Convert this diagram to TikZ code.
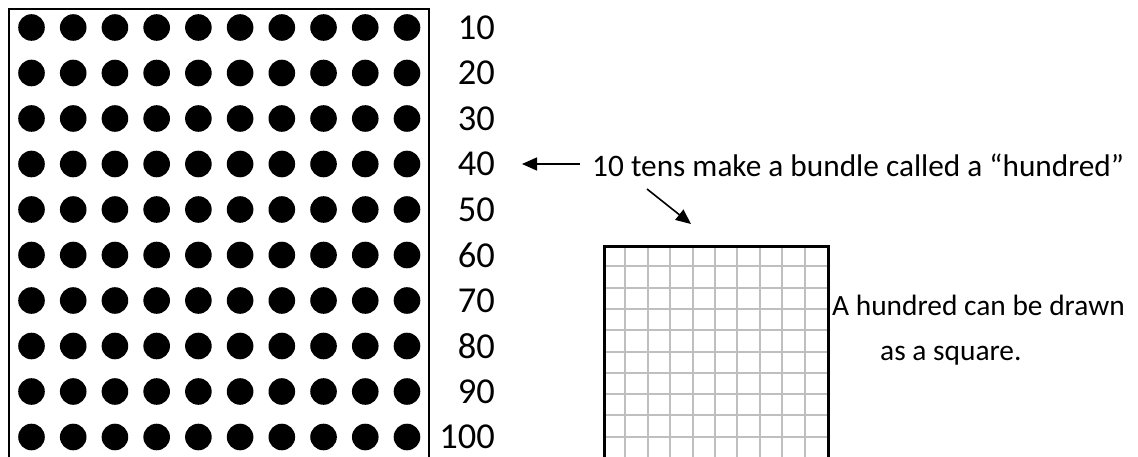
\documentclass[tikz,border=0pt]{standalone}
\usepackage{fontspec}
\setmainfont{Carlito}
\usetikzlibrary{arrows.meta,calc}
\begin{document}
\begin{tikzpicture}[x=1pt,y=-1pt,
 dot/.style={circle,fill=black,inner sep=0pt,minimum size=26.6pt},
 num/.style={anchor=east,inner sep=0pt,font=\fontsize{36.5}{44}\selectfont},
 lbl/.style={anchor=base west,inner sep=0pt,font=\fontsize{29.4}{35}\selectfont},
 toplbl/.style={lbl,font=\fontsize{31.3}{37}\selectfont},
 arr/.style={line width=1.6pt,-{Triangle[length=15pt,width=13pt]}},
 gridl/.style={line width=2pt,color=gridgray},
 sqbox/.style={draw,line width=3pt,minimum width=224pt,minimum height=213pt,inner sep=0pt,anchor=north west}
]
\definecolor{gridgray}{RGB}{191,191,191}
\useasboundingbox (0,0) rectangle (1138,457);
\fill[white] (0,0) rectangle (1138,457);
\draw[line width=2pt] (9,9) rectangle (429,480);
\foreach \r [evaluate=\r as \yy using 27.5+45.5*(\r-1)] in {1,...,10} {
  \foreach \c in {1,...,10} { \node[dot] (d-\r-\c) at ({31.5+41.72*(\c-1)},\yy) {}; }
  \node[num] (n\r) at (495,\yy) {\the\numexpr\r*10\relax};
}
\foreach \i in {1,...,9} {
  \draw[gridl] ({603+22.4*\i},245) -- ({603+22.4*\i},458);
  \draw[gridl] (603,{245+21.3*\i}) -- (827,{245+21.3*\i});
}
\node[sqbox] (sq) at (603,245) {};
\node[toplbl] (t1) at (592,177) {10 tens make a bundle called a “hundred”};
\node[lbl] (h1) at (832,315) {A hundred can be drawn};
\node[lbl] (h2) at (880,360) {as a square.};
\draw[arr] ($(t1.west |- n4.east)+(-12,0)$) -- ($(n4.east)+(27,0)$);
\draw[arr] ($(t1.base west)+(55,12)$) -- ($(sq.north west)+(88,-21)$);
\end{tikzpicture}
\end{document}
